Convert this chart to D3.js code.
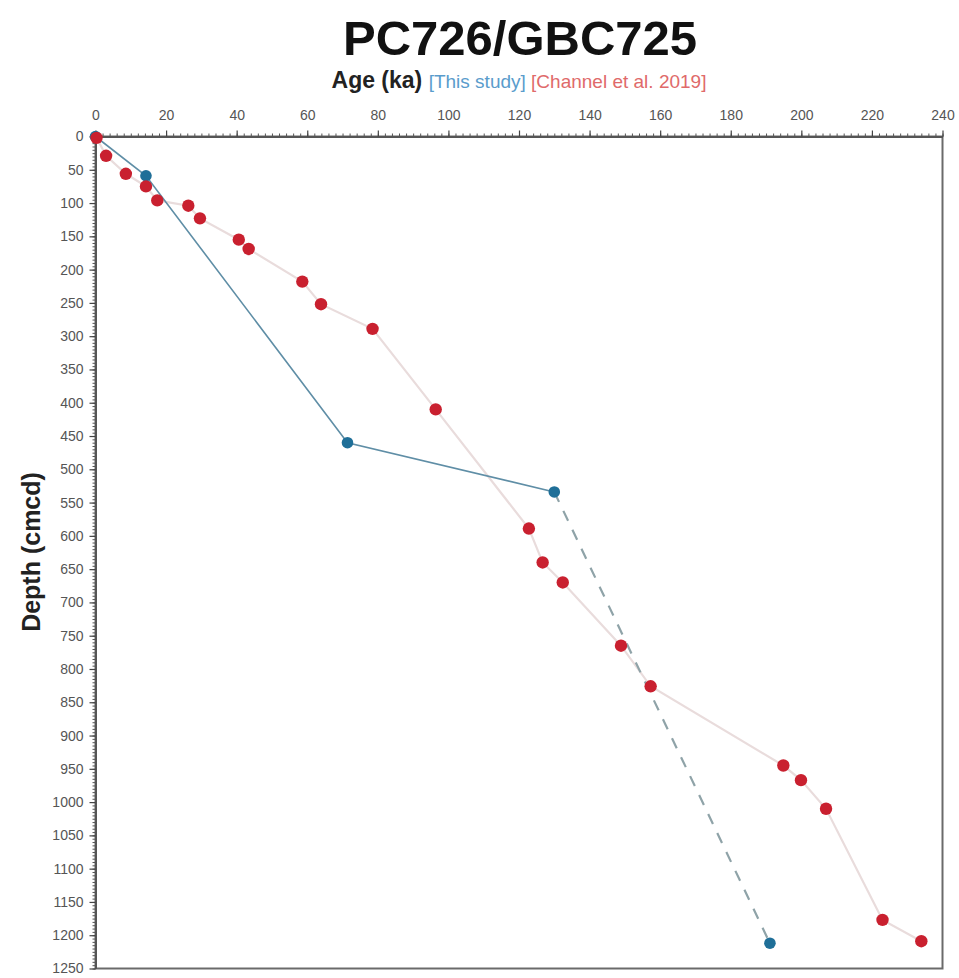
<!DOCTYPE html>
<html>
<head>
<meta charset="utf-8">
<script src="https://cdn.jsdelivr.net/npm/d3@7/dist/d3.min.js"></script>
<style>
  html, body { margin: 0; padding: 0; background: #fff; }
  svg { display: block; font-family: "Liberation Sans", Arial, sans-serif; }
</style>
</head>
<body>
<svg id="chart" width="959" height="978"></svg>
<script>
// Age model tie points: age (ka) versus depth (cmcd)
const thisStudyAge   = [0, 14.3, 71.4, 130.0, 191.1];
const thisStudyDepth = [0, 59, 460, 534, 1212];
// index from which the model is extrapolated (dashed)
const thisStudyDashFrom = 3;

const channelAge   = [0.3, 3.0, 8.6, 14.3, 17.5, 26.3, 29.6, 40.6, 43.4, 58.6, 63.9, 78.5,
                      96.4, 122.8, 126.7, 132.4, 148.9, 157.3, 194.9, 199.9, 207.0, 223.0, 234.0];
const channelDepth = [2, 29, 56, 75, 96, 104, 123, 155, 169, 218, 252, 289,
                      410, 589, 640, 670, 765, 826, 945, 967, 1010, 1177, 1209];

const ageTicks   = d3.range(0, 241, 20);
const depthTicks = d3.range(0, 1251, 50);

const svg = d3.select("#chart");

const x = d3.scaleLinear().domain([0, 240]).range([95.5, 942.5]);
const y = d3.scaleLinear().domain([0, 1250]).range([136.5, 968.5]);

const blue = "#1f6f98";
const red = "#c9202f";

// Title
svg.append("text")
  .attr("x", 520).attr("y", 55)
  .attr("text-anchor", "middle")
  .attr("font-size", 49).attr("font-weight", "bold").attr("fill", "#111")
  .text("PC726/GBC725");

// Axis title with series keys
const sub = svg.append("text")
  .attr("x", 519).attr("y", 88)
  .attr("text-anchor", "middle");
sub.append("tspan").attr("font-size", 23).attr("font-weight", "bold").attr("fill", "#222").text("Age (ka) ");
sub.append("tspan").attr("font-size", 19).attr("fill", "#5a9ccc").text("[This study] ");
sub.append("tspan").attr("font-size", 19).attr("fill", "#e06a6a").text("[Channel et al. 2019]");

// Depth axis title
svg.append("text")
  .attr("transform", "translate(40,552) rotate(-90)")
  .attr("text-anchor", "middle")
  .attr("font-size", 25).attr("font-weight", "bold").attr("fill", "#222")
  .text("Depth (cmcd)");

// Plot frame
svg.append("rect")
  .attr("x", x(0)).attr("y", y(0))
  .attr("width", x(240) - x(0)).attr("height", y(1250) - y(0))
  .attr("fill", "none").attr("stroke", "#6a6a6a").attr("stroke-width", 2);

// Minor ticks
svg.append("g").attr("transform", `translate(0,${y(0)})`)
  .call(d3.axisTop(x).tickValues(d3.range(0, 241, 2)).tickSize(3).tickFormat(""))
  .call(g => g.select(".domain").remove())
  .call(g => g.selectAll("line").attr("stroke", "#555"));
svg.append("g").attr("transform", `translate(${x(0)},0)`)
  .call(d3.axisLeft(y).tickValues(d3.range(0, 1251, 5)).tickSize(3).tickFormat(""))
  .call(g => g.select(".domain").remove())
  .call(g => g.selectAll("line").attr("stroke", "#555"));

// Major axes
const xAxis = svg.append("g").attr("transform", `translate(0,${y(0)})`)
  .call(d3.axisTop(x).tickValues(ageTicks).tickFormat(d3.format("d"))
    .tickSize(6).tickSizeOuter(0).tickPadding(11));
const yAxis = svg.append("g").attr("transform", `translate(${x(0)},0)`)
  .call(d3.axisLeft(y).tickValues(depthTicks).tickFormat(d3.format("d"))
    .tickSize(6).tickSizeOuter(0).tickPadding(6));
[xAxis, yAxis].forEach(g => {
  g.select(".domain").attr("stroke", "#555").attr("stroke-width", 2);
  g.selectAll(".tick line").attr("stroke", "#444").attr("stroke-width", 1.2);
  g.selectAll(".tick text").attr("font-size", 14).attr("fill", "#555")
    .attr("font-family", "'Liberation Sans', Arial, sans-serif");
});

// Series lines
const thisStudy = thisStudyAge.map((a, i) => ({ age: a, depth: thisStudyDepth[i] }));
const channel = channelAge.map((a, i) => ({ age: a, depth: channelDepth[i] }));
const line = d3.line().x(d => x(d.age)).y(d => y(d.depth));

svg.append("path").datum(channel)
  .attr("d", line).attr("fill", "none")
  .attr("stroke", "#e9dcdc").attr("stroke-width", 2.2);

svg.append("path").datum(thisStudy.slice(0, thisStudyDashFrom + 1))
  .attr("d", line).attr("fill", "none")
  .attr("stroke", "#5f8ea6").attr("stroke-width", 1.6);

svg.append("path").datum(thisStudy.slice(thisStudyDashFrom))
  .attr("d", line).attr("fill", "none")
  .attr("stroke", "#8fa3a8").attr("stroke-width", 2.2)
  .attr("stroke-dasharray", "11,10");

// Points
svg.append("g").selectAll("circle").data(thisStudy).join("circle")
  .attr("cx", d => x(d.age)).attr("cy", d => y(d.depth)).attr("r", 5.8)
  .attr("fill", blue);

svg.append("g").selectAll("circle").data(channel).join("circle")
  .attr("cx", d => x(d.age)).attr("cy", d => y(d.depth)).attr("r", 6.2)
  .attr("fill", red);
</script>
</body>
</html>
